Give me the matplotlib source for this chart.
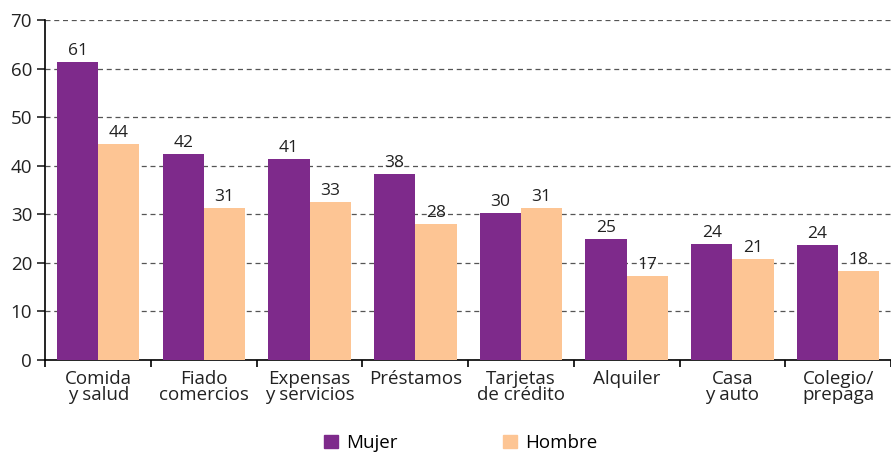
import matplotlib
matplotlib.use("Agg")
import matplotlib.pyplot as plt
import numpy as np
from matplotlib.patches import Patch

categories = ["Comida\ny salud", "Fiado\ncomercios", "Expensas\ny servicios", "Préstamos",
              "Tarjetas\nde crédito", "Alquiler", "Casa\ny auto", "Colegio/\nprepaga"]
mujer = [61.3, 42.4, 41.4, 38.3, 30.3, 25.0, 23.9, 23.6]
hombre = [44.4, 31.3, 32.6, 28.0, 31.3, 17.3, 20.8, 18.3]
mujer_labels = ["61", "42", "41", "38", "30", "25", "24", "24"]
hombre_labels = ["44", "31", "33", "28", "31", "17", "21", "18"]
yticks = [0, 10, 20, 30, 40, 50, 60, 70]

plt.rcParams['font.family'] = ['Open Sans', 'DejaVu Sans']
c_m = "#7e2a8b"
c_h = "#fdc594"

fig = plt.figure(figsize=(8.91, 4.57), dpi=100)
left_px = 45.3
ax = fig.add_axes([left_px/891, 1-360/457, (891-left_px)/891, 340/457])
x = np.arange(len(categories))
w = 0.39
ax.bar(x - w/2, mujer, w, color=c_m, zorder=3)
ax.bar(x + w/2, hombre, w, color=c_h, zorder=3)
for xi, v, l in zip(x, mujer, mujer_labels):
    ax.text(xi - w/2, v + 0.6, l, ha='center', va='bottom', fontsize=12.5, color='#222222', zorder=4)
for xi, v, l in zip(x, hombre, hombre_labels):
    ax.text(xi + w/2, v + 0.6, l, ha='center', va='bottom', fontsize=12.5, color='#222222', zorder=4)

ax.set_ylim(0, 70)
ax.set_xlim(-0.5, -0.5 + (891-left_px)/106.67)
ax.set_yticks(yticks)
ax.tick_params(axis='y', labelsize=13.5, length=6, width=1.2, direction='out', colors='#222222')
ax.set_xticks(np.arange(len(categories) + 1) - 0.5)
ax.set_xticklabels([])
ax.tick_params(axis='x', length=5, width=1.2, direction='out')
ax.set_xticks(x, minor=True)
ax.set_xticklabels(categories, minor=True, fontsize=13.5, color='#222222', linespacing=0.9)
ax.tick_params(axis='x', which='minor', length=0, pad=7)
for s in ['top', 'right']:
    ax.spines[s].set_visible(False)
ax.spines['left'].set_linewidth(1.2)
ax.spines['bottom'].set_linewidth(1.2)
ax.yaxis.grid(True, linestyle=(0, (4, 3)), color='#555555', linewidth=0.9, zorder=0)
ax.set_axisbelow(True)

handles = [Patch(color=c_m, label='Mujer'), Patch(color=c_h, label='Hombre')]
fig.legend(handles=handles, loc='center', bbox_to_anchor=(460.5/891, 1-443/457), ncol=2,
           frameon=False, fontsize=13.5, handlelength=0.75, handleheight=0.75,
           columnspacing=5.6, handletextpad=0.45)

fig.savefig("out.png", dpi=100)
